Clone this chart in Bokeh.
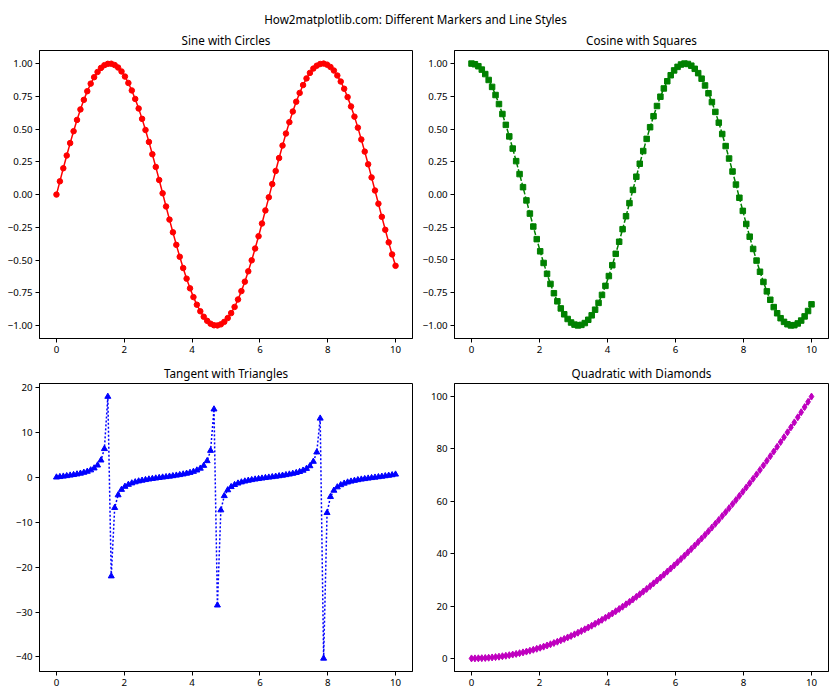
from bokeh.plotting import figure
from bokeh.layouts import column, row
from bokeh.models import Range1d, FixedTicker, Label
from bokeh.embed import file_html
from bokeh.resources import INLINE

FONT = "Noto Sans"

suptitle = "How2matplotlib.com: Different Markers and Line Styles"
titles = ["Sine with Circles", "Cosine with Squares", "Tangent with Triangles", "Quadratic with Diamonds"]

x = [0.0, 0.101, 0.202, 0.303, 0.404, 0.505, 0.606, 0.707, 0.808, 0.909,
     1.010, 1.111, 1.212, 1.313, 1.414, 1.515, 1.616, 1.717, 1.818, 1.919,
     2.020, 2.121, 2.222, 2.323, 2.424, 2.525, 2.626, 2.727, 2.828, 2.929,
     3.030, 3.131, 3.232, 3.333, 3.434, 3.535, 3.636, 3.737, 3.838, 3.939,
     4.040, 4.141, 4.242, 4.343, 4.444, 4.545, 4.646, 4.747, 4.848, 4.949,
     5.051, 5.152, 5.253, 5.354, 5.455, 5.556, 5.657, 5.758, 5.859, 5.960,
     6.061, 6.162, 6.263, 6.364, 6.465, 6.566, 6.667, 6.768, 6.869, 6.970,
     7.071, 7.172, 7.273, 7.374, 7.475, 7.576, 7.677, 7.778, 7.879, 7.980,
     8.081, 8.182, 8.283, 8.384, 8.485, 8.586, 8.687, 8.788, 8.889, 8.990,
     9.091, 9.192, 9.293, 9.394, 9.495, 9.596, 9.697, 9.798, 9.899, 10.0]

sine = [0.000, 0.101, 0.201, 0.298, 0.393, 0.484, 0.570, 0.650, 0.723, 0.789,
        0.847, 0.896, 0.936, 0.967, 0.988, 0.998, 0.999, 0.989, 0.970, 0.940,
        0.901, 0.852, 0.795, 0.730, 0.657, 0.578, 0.493, 0.402, 0.308, 0.211,
        0.111, 0.010, -0.091, -0.191, -0.288, -0.384, -0.475, -0.561, -0.642, -0.716,
        -0.783, -0.841, -0.891, -0.933, -0.964, -0.986, -0.998, -0.999, -0.991, -0.972,
        -0.943, -0.905, -0.858, -0.801, -0.737, -0.665, -0.586, -0.502, -0.412, -0.318,
        -0.221, -0.121, -0.021, 0.080, 0.180, 0.279, 0.374, 0.466, 0.553, 0.634,
        0.709, 0.776, 0.836, 0.887, 0.929, 0.962, 0.984, 0.997, 1.000, 0.992,
        0.974, 0.947, 0.909, 0.863, 0.808, 0.744, 0.673, 0.595, 0.511, 0.421,
        0.328, 0.231, 0.131, 0.031, -0.070, -0.170, -0.269, -0.365, -0.457, -0.544]

cosine = [1.000, 0.995, 0.980, 0.954, 0.920, 0.875, 0.822, 0.760, 0.691, 0.615,
          0.532, 0.444, 0.351, 0.255, 0.156, 0.056, -0.045, -0.146, -0.245, -0.341,
          -0.434, -0.523, -0.606, -0.683, -0.754, -0.816, -0.870, -0.915, -0.951, -0.978,
          -0.994, -1.000, -0.996, -0.982, -0.957, -0.923, -0.880, -0.828, -0.767, -0.698,
          -0.623, -0.540, -0.453, -0.361, -0.265, -0.166, -0.066, 0.035, 0.136, 0.235,
          0.332, 0.425, 0.514, 0.598, 0.676, 0.747, 0.810, 0.865, 0.911, 0.948,
          0.975, 0.993, 1.000, 0.997, 0.984, 0.960, 0.927, 0.885, 0.833, 0.773,
          0.706, 0.631, 0.549, 0.462, 0.370, 0.275, 0.176, 0.076, -0.025, -0.125,
          -0.225, -0.322, -0.416, -0.505, -0.590, -0.668, -0.740, -0.804, -0.860, -0.907,
          -0.945, -0.973, -0.991, -1.000, -0.998, -0.985, -0.963, -0.931, -0.890, -0.839]

tangent = [0.00, 0.10, 0.20, 0.31, 0.43, 0.55, 0.69, 0.85, 1.05, 1.28,
           1.59, 2.02, 2.67, 3.79, 6.33, 17.96, -22.01, -6.78, -3.96, -2.75,
           -2.07, -1.63, -1.31, -1.07, -0.87, -0.71, -0.57, -0.44, -0.32, -0.22,
           -0.11, -0.01, 0.09, 0.19, 0.30, 0.42, 0.54, 0.68, 0.84, 1.03,
           1.26, 1.56, 1.97, 2.59, 3.64, 5.93, 15.15, -28.49, -7.31, -4.14,
           -2.84, -2.13, -1.67, -1.34, -1.09, -0.89, -0.72, -0.58, -0.45, -0.34,
           -0.23, -0.12, -0.02, 0.08, 0.18, 0.29, 0.40, 0.53, 0.66, 0.82,
           1.00, 1.23, 1.52, 1.92, 2.51, 3.50, 5.58, 13.11, -40.32, -7.91,
           -4.33, -2.94, -2.19, -1.71, -1.37, -1.11, -0.91, -0.74, -0.59, -0.46,
           -0.35, -0.24, -0.13, -0.03, 0.07, 0.17, 0.28, 0.39, 0.51, 0.65]

quadratic = [0.00, 0.01, 0.04, 0.09, 0.16, 0.26, 0.37, 0.50, 0.65, 0.83,
             1.02, 1.23, 1.47, 1.72, 2.00, 2.30, 2.61, 2.95, 3.31, 3.68,
             4.08, 4.50, 4.94, 5.40, 5.88, 6.38, 6.90, 7.44, 8.00, 8.58,
             9.18, 9.81, 10.45, 11.11, 11.79, 12.50, 13.22, 13.97, 14.73, 15.52,
             16.32, 17.15, 18.00, 18.87, 19.75, 20.66, 21.59, 22.54, 23.51, 24.50,
             25.51, 26.54, 27.59, 28.66, 29.75, 30.86, 32.00, 33.15, 34.32, 35.52,
             36.73, 37.97, 39.22, 40.50, 41.79, 43.11, 44.44, 45.80, 47.18, 48.58,
             49.99, 51.43, 52.89, 54.37, 55.87, 57.39, 58.93, 60.49, 62.08, 63.68,
             65.30, 66.94, 68.61, 70.29, 71.99, 73.72, 75.46, 77.23, 79.01, 80.82,
             82.64, 84.49, 86.36, 88.25, 90.15, 92.08, 94.03, 96.00, 97.99, 100.00]

x_ticks = [0, 2, 4, 6, 8, 10]
x_tick_labels = ["0", "2", "4", "6", "8", "10"]
trig_ticks = [-1, -0.75, -0.5, -0.25, 0, 0.25, 0.5, 0.75, 1]
trig_tick_labels = ["\u22121.00", "\u22120.75", "\u22120.50", "\u22120.25", "0.00", "0.25", "0.50", "0.75", "1.00"]
tan_ticks = [-40, -30, -20, -10, 0, 10, 20]
tan_tick_labels = ["\u221240", "\u221230", "\u221220", "\u221210", "0", "10", "20"]
quad_ticks = [0, 20, 40, 60, 80, 100]
quad_tick_labels = ["0", "20", "40", "60", "80", "100"]


def padded(vals):
    lo, hi = min(vals), max(vals)
    pad = 0.05 * (hi - lo)
    return Range1d(lo - pad, hi + pad)


def make_panel(title, ys, yticks, ylabels, color, marker, msize, dash,
               left, right, top, bottom, fw, fh):
    p = figure(frame_width=fw, frame_height=fh, toolbar_location=None,
               output_backend="svg", x_range=padded(x), y_range=padded(ys),
               min_border_left=left, min_border_right=right,
               min_border_top=top, min_border_bottom=bottom)
    p.title.text = title
    p.title.align = "center"
    p.title.text_font = FONT
    p.title.text_font_size = "11.7px"
    p.title.text_font_style = "normal"
    p.title.text_color = "#000000"
    p.title.standoff = 5
    p.grid.visible = False
    p.outline_line_color = "#000000"
    p.outline_line_width = 1
    for ax, ticks, labels in ((p.xaxis, x_ticks, x_tick_labels), (p.yaxis, yticks, ylabels)):
        ax.ticker = FixedTicker(ticks=ticks)
        ax.major_label_overrides = {t: l for t, l in zip(ticks, labels)}
        ax.major_label_text_font = FONT
        ax.major_label_text_font_size = "9.7px"
        ax.major_label_text_color = "#000000"
        ax.major_tick_in = 0
        ax.major_tick_out = 4
        ax.major_tick_line_color = "#000000"
        ax.minor_tick_line_color = None
        ax.axis_line_color = "#000000"
        ax.major_label_standoff = 3
    p.line(x, ys, line_color=color, line_width=1.5, line_dash=dash)
    p.scatter(x, ys, marker=marker, size=msize, fill_color=color, line_color=color)
    return p


p1 = make_panel(titles[0], sine, trig_ticks, trig_tick_labels, "#ff0000", "circle", 5.5,
                "solid", 39, 7, 21, 22, 373, 288)
p2 = make_panel(titles[1], cosine, trig_ticks, trig_tick_labels, "#008000", "square", 5.5,
                "5 2", 35, 2, 21, 22, 374, 288)
p3 = make_panel(titles[2], tangent, tan_ticks, tan_tick_labels, "#0000ff", "triangle", 6,
                "2 2", 39, 7, 21, 20, 373, 288)
p4 = make_panel(titles[3], quadratic, quad_ticks, quad_tick_labels, "#bf00bf", "diamond", 7,
                "9 2 2 2", 35, 2, 21, 20, 374, 288)

pt = figure(width=830, height=27, toolbar_location=None, output_backend="svg",
            x_range=Range1d(0, 1), y_range=Range1d(0, 1), min_border=0,
            x_axis_location=None, y_axis_location=None, outline_line_color=None)
pt.grid.visible = False
pt.add_layout(Label(x=0.5, y=0.3, text=suptitle, text_align="center",
                    text_baseline="middle", text_font=FONT,
                    text_font_size="11.7px", text_color="#000000"))

layout = column(pt, row(p1, p2), row(p3, p4))

open("out.html", "w").write(file_html(layout, INLINE))
